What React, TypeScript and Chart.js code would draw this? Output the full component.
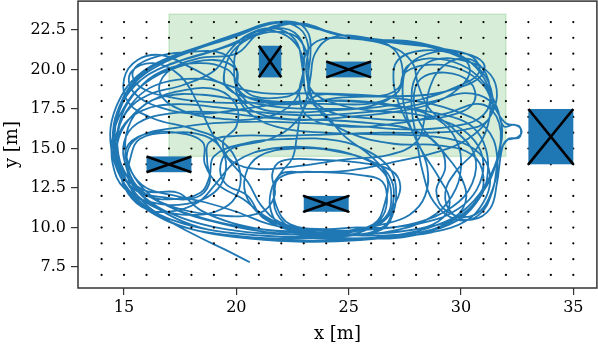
import { useEffect, useRef } from "react";
import { Chart, registerables } from "chart.js";

Chart.register(...registerables);

// ---- axes ----
const xTicks = [15, 20, 25, 30, 35];
const yTicks = [7.5, 10, 12.5, 15, 17.5, 20, 22.5];
const xRange = [12.95, 36.05];
const yRange = [6.175, 24.325];

// ---- waypoint grid ----
const dotXs = [14, 15, 16, 17, 18, 19, 20, 21, 22, 23, 24, 25, 26, 27, 28, 29, 30, 31, 32, 33, 34, 35];
const dotYs = [7, 8, 9, 10, 11, 12, 13, 14, 15, 16, 17, 18, 19, 20, 21, 22, 23];

// ---- target region (green) ----
const regionX = [17, 32];
const regionY = [14.5, 23.5];

// ---- obstacles ----
const obstacleX0 = [21, 24, 16, 23, 33];
const obstacleX1 = [22, 26, 18, 25, 35];
const obstacleY0 = [19.5, 19.5, 13.5, 11, 14];
const obstacleY1 = [21.5, 20.5, 14.5, 12, 17.5];

// ---- trajectory laps ----
const lap1: number[][] = [
  [20.6, 7.8], [19.5, 8.6], [18.2, 9.5], [16.8, 10.6], [15.6, 12.0], [14.8, 13.9], [14.5, 15.9], [14.9, 17.9],
  [15.9, 19.5], [17.4, 20.5], [19.2, 21.3], [20.8, 22.2], [22.1, 22.6], [22.9, 21.8], [23.0, 20.1], [22.8, 18.4],
  [23.2, 17.0], [24.8, 16.4], [27.2, 16.6], [29.3, 17.2], [30.9, 17.8], [31.7, 16.6], [31.6, 14.3], [30.9, 12.1],
  [29.7, 10.5], [27.9, 9.5], [25.6, 9.3], [23.1, 9.5], [20.9, 9.8], [18.9, 10.4], [17.2, 11.2], [15.9, 12.4],
  [15.2, 14.0], [15.1, 15.9], [15.7, 17.5],
];
const lap2: number[][] = [
  [16.8, 18.3], [18.5, 18.4], [20.3, 18.0], [22.0, 17.6], [24.0, 17.5], [26.2, 17.6], [28.2, 18.1], [29.8, 18.9],
  [30.8, 19.8], [30.5, 20.8], [29.2, 21.3], [27.5, 21.6], [25.5, 21.9], [23.8, 21.9], [23.1, 21.0], [23.0, 19.5],
  [23.2, 18.2], [24.0, 17.1], [24.8, 15.8], [26.0, 14.5], [26.7, 13.2], [26.6, 11.5], [26.1, 10.2], [24.5, 9.7],
  [22.6, 9.9], [21.8, 10.9], [21.7, 12.4], [22.0, 13.4], [23.0, 13.5], [25.0, 13.6], [27.2, 14.2], [29.0, 14.8],
  [30.3, 15.6], [31.2, 16.8], [31.6, 18.3], [31.3, 19.7], [30.3, 20.5], [28.8, 20.6], [28.0, 19.6], [27.8, 17.8],
];
const lap3: number[][] = [
  [28.0, 15.8], [28.3, 13.5], [28.8, 11.6], [29.8, 10.5], [30.8, 10.8], [31.4, 12.3], [31.7, 14.6], [32.1, 15.6],
  [32.6, 15.7], [32.6, 16.4], [32.0, 16.6], [31.5, 17.6], [31.0, 19.0], [30.0, 20.0], [28.7, 20.3], [27.5, 19.8],
  [27.2, 18.6], [26.2, 17.9], [24.5, 17.8], [22.8, 17.9], [21.0, 18.1], [19.6, 18.8], [19.5, 20.1], [20.0, 21.4],
  [21.2, 22.3], [22.5, 22.2], [23.1, 21.2], [23.2, 19.8], [23.3, 18.5], [23.8, 17.2], [25.0, 16.0], [27.0, 15.3],
  [29.0, 15.2], [30.5, 14.6], [31.0, 13.2], [30.7, 11.6], [29.5, 10.2], [27.6, 9.6], [25.4, 9.5], [23.0, 9.7],
];
const lap4: number[][] = [
  [20.5, 10.0], [18.5, 10.6], [16.6, 11.6], [15.3, 13.0], [14.6, 15.0], [14.7, 17.0], [15.2, 18.8], [16.3, 20.2],
  [18.0, 21.2], [19.8, 22.0], [21.6, 22.9], [23.0, 22.8], [24.5, 22.2], [26.3, 21.9], [28.0, 21.6], [29.6, 21.0],
  [30.9, 19.9], [31.4, 18.3], [31.2, 16.8], [30.2, 16.2], [28.5, 16.0], [26.5, 16.0], [24.3, 15.9], [22.0, 15.8],
  [20.0, 15.8], [18.8, 15.4], [18.7, 14.2], [18.8, 12.8], [18.2, 11.9], [16.8, 11.9], [15.6, 12.4], [15.1, 13.8],
  [15.0, 15.4], [15.6, 16.6], [17.0, 17.2], [19.0, 17.3], [21.0, 17.0], [23.0, 16.8], [25.0, 17.0], [27.0, 17.3],
  [28.6, 17.8], [29.9, 18.8], [30.4, 20.0], [29.8, 20.9], [28.3, 21.2], [27.2, 20.6], [27.0, 19.2], [27.3, 17.6],
  [28.0, 15.6], [28.5, 13.8], [28.4, 12.0], [27.7, 10.8], [26.5, 10.2],
];
const lap5: number[][] = [
  [25.0, 9.8], [23.0, 9.9], [21.4, 10.5], [20.5, 11.8], [20.4, 13.3], [21.0, 14.5], [22.5, 15.0], [24.5, 14.8],
  [26.3, 14.0], [26.9, 13.0], [27.0, 11.8], [26.7, 10.6], [25.8, 9.9], [24.0, 9.6], [21.6, 9.6], [19.5, 9.9],
  [17.6, 10.6], [16.1, 11.7], [15.1, 13.3], [14.7, 15.2], [14.9, 17.1], [15.6, 18.7], [16.7, 19.9], [18.3, 20.4],
  [19.6, 20.0], [20.2, 18.9], [20.8, 18.3],
];
const lap6: number[][] = [
  [21.8, 18.2], [22.7, 18.6], [23.0, 19.8], [22.8, 21.3], [22.0, 22.3], [20.9, 22.4], [20.1, 21.5], [19.9, 20.0],
  [20.1, 18.6], [20.9, 17.6], [22.4, 17.3], [24.2, 17.4], [26.0, 17.7], [27.2, 18.6], [27.4, 20.0], [27.0, 21.3],
  [25.8, 22.0], [24.2, 22.0], [23.5, 21.0], [23.3, 19.5], [23.1, 18.0], [22.6, 16.6], [21.5, 15.6], [19.8, 15.0],
  [19.3, 14.0], [19.5, 12.8], [20.5, 12.0],
];
const lap7: number[][] = [
  [21.2, 10.6], [22.8, 9.7], [25.0, 9.5], [27.0, 9.8], [28.6, 10.6], [29.6, 12.0], [30.0, 13.8], [29.8, 15.5],
  [29.0, 16.8], [27.5, 17.6], [25.5, 18.0], [23.4, 18.0], [21.2, 17.9], [19.2, 17.9], [17.2, 18.2], [15.7, 18.9],
  [15.4, 19.9], [16.2, 20.7], [17.8, 21.1], [19.4, 21.0], [20.0, 20.0], [20.0, 18.6], [20.6, 17.2], [22.0, 16.3],
  [24.0, 16.0], [26.3, 15.9], [28.4, 15.8], [30.0, 15.4], [31.0, 14.4], [31.3, 13.0], [31.0, 11.6], [30.2, 10.4],
  [28.7, 9.7], [26.8, 9.4], [24.5, 9.3], [22.3, 9.4], [20.2, 9.6], [18.4, 10.0], [17.0, 10.8], [15.8, 12.0],
  [15.0, 13.6], [14.6, 15.5], [14.8, 17.4], [15.5, 19.0], [16.8, 20.2], [18.6, 21.0], [20.3, 21.8], [21.8, 22.7],
  [23.0, 22.9], [24.3, 22.3], [25.8, 21.9], [27.6, 21.8], [29.0, 21.4], [30.2, 20.7], [31.0, 19.5], [31.3, 18.0],
  [30.8, 16.9], [29.6, 16.4],
];
const lap8: number[][] = [
  [27.8, 16.2], [25.5, 16.4], [23.2, 16.6], [21.0, 16.7], [19.0, 16.6], [17.3, 16.3], [15.9, 15.9], [15.2, 15.0],
  [15.2, 13.6], [15.8, 12.3], [17.2, 11.3], [19.0, 10.8], [21.0, 10.9], [21.7, 12.0], [21.6, 13.4], [22.0, 14.2],
  [23.5, 14.3], [25.5, 14.1], [26.9, 13.6], [27.3, 12.6], [27.0, 11.3], [26.6, 10.1], [25.2, 9.5], [23.0, 9.4],
  [21.0, 9.5], [19.0, 9.8], [17.3, 10.4], [15.9, 11.4], [15.0, 12.8], [14.5, 14.5], [14.4, 16.3], [14.8, 18.1],
  [15.6, 19.6], [16.9, 20.7], [18.7, 21.6], [20.3, 22.4], [21.7, 23.0], [22.8, 22.6], [23.2, 21.5], [23.1, 20.0],
  [23.4, 18.6], [24.5, 17.8], [26.0, 17.4], [27.8, 17.2], [29.5, 16.6], [30.6, 15.5], [31.0, 14.0], [30.7, 12.4],
  [29.9, 11.2], [28.6, 10.4], [26.8, 10.0],
];
const lap9: number[][] = [
  [25.2, 10.0], [24.0, 9.9], [22.4, 10.2], [21.8, 11.3], [21.7, 12.7], [22.3, 13.4], [23.8, 13.5], [25.6, 13.3],
  [26.5, 12.9], [26.7, 11.6], [26.4, 10.5], [25.5, 9.7], [23.8, 9.4], [21.8, 9.3], [19.8, 9.5], [18.0, 9.9],
  [16.6, 10.7], [15.6, 11.8], [15.2, 13.0], [15.3, 14.5], [15.7, 15.6], [17.0, 16.0], [18.6, 15.8], [19.4, 14.8],
  [19.5, 13.4], [19.0, 12.2], [17.8, 11.5], [16.2, 11.6], [15.0, 12.5], [14.5, 14.0], [14.5, 15.8], [15.0, 17.6],
  [15.9, 19.1], [17.3, 20.1], [19.0, 20.6], [20.0, 20.0],
];
const lap10: number[][] = [
  [20.1, 18.7], [21.0, 18.0], [22.6, 17.8], [24.5, 18.2], [26.5, 18.3], [28.5, 18.4], [30.0, 18.9], [30.9, 19.6],
  [31.0, 20.4], [30.2, 21.0], [28.8, 21.1], [27.7, 20.3], [27.4, 18.8], [27.6, 17.0], [28.2, 15.0], [29.0, 13.2],
  [29.5, 11.6], [29.0, 10.4], [27.6, 9.8], [25.8, 9.6], [23.8, 9.6], [21.6, 9.8], [19.8, 10.3], [18.4, 11.1],
  [17.4, 12.2], [16.0, 12.3], [15.1, 13.3], [14.7, 14.8], [14.9, 16.3], [15.8, 17.4], [17.3, 17.8], [19.2, 17.6],
  [21.0, 17.3], [23.0, 17.1], [25.0, 17.2], [27.0, 17.5], [28.8, 18.0], [30.2, 18.5], [31.3, 18.0], [31.8, 16.6],
  [31.7, 14.8], [31.2, 13.0], [30.3, 11.3], [29.0, 10.2], [27.0, 9.5],
];
const lap11: number[][] = [
  [24.6, 9.2], [22.2, 9.2], [20.0, 9.4], [18.0, 9.9], [16.4, 10.8], [15.3, 12.1], [14.8, 13.7], [14.7, 15.3],
  [15.2, 16.8], [16.2, 18.0], [17.7, 18.7], [19.2, 18.7], [20.0, 17.7], [20.0, 16.4], [19.4, 15.4],
];
const lap12: number[][] = [
  [19.8, 14.2], [21.0, 13.7], [22.8, 13.9], [24.8, 14.3], [26.8, 14.6], [28.0, 15.4], [28.4, 17.0], [28.6, 18.8],
  [29.2, 20.2], [30.2, 20.7], [31.0, 20.0], [31.3, 18.5], [31.2, 16.5], [30.6, 14.8], [29.8, 13.6], [29.3, 12.2],
  [29.6, 10.9], [30.5, 10.5], [31.3, 11.2], [31.6, 12.8], [31.8, 14.8], [32.0, 15.5], [32.5, 15.7], [32.7, 16.1],
  [32.4, 16.5], [31.9, 16.4], [31.6, 17.6], [31.0, 19.2], [30.0, 20.3], [28.6, 20.7], [27.6, 20.2], [27.2, 18.8],
  [26.2, 18.3], [24.6, 18.4], [23.5, 18.3], [22.9, 17.2], [22.7, 15.8], [22.5, 14.4], [22.0, 13.5], [21.6, 12.6],
  [21.5, 11.3], [21.9, 10.2], [23.0, 9.6], [25.0, 9.5], [26.5, 9.9], [27.0, 11.0], [27.1, 12.6], [26.8, 13.8],
  [25.9, 14.8], [24.5, 15.5], [22.3, 15.6], [20.3, 15.3], [19.0, 14.5], [18.8, 13.2], [18.4, 12.2], [17.2, 11.8],
  [16.0, 12.0], [15.1, 12.9], [14.6, 14.4], [14.5, 16.0], [14.8, 17.7], [15.5, 19.2], [16.6, 20.3], [18.1, 21.2],
  [19.7, 22.0], [21.2, 22.8], [22.6, 23.0], [23.2, 22.3], [23.3, 21.0], [23.2, 19.6],
];
const lap13: number[][] = [
  [23.3, 18.3], [24.2, 17.3], [26.0, 16.9], [28.0, 16.8], [29.8, 17.2], [30.6, 18.0], [30.4, 19.2], [29.3, 19.8],
  [28.2, 19.4], [27.9, 18.0], [28.3, 16.3], [29.2, 14.8], [30.0, 13.2], [30.2, 11.6], [29.4, 10.3], [27.8, 9.6],
  [25.5, 9.2], [23.0, 9.1], [20.6, 9.3], [18.6, 9.7], [17.0, 10.4], [15.8, 11.4], [15.0, 12.8], [14.6, 14.6],
  [14.8, 16.5], [15.5, 18.1], [16.4, 19.0], [17.8, 19.4], [19.2, 19.2], [20.0, 18.4], [20.7, 17.4], [22.0, 16.9],
  [24.0, 16.8], [26.0, 16.6], [27.8, 16.2], [29.0, 15.2], [29.3, 13.8],
];
const lap14: number[][] = [
  [28.9, 12.3], [29.4, 11.0], [30.6, 10.8], [31.4, 12.4], [31.6, 14.6], [31.1, 16.3], [29.7, 17.4], [27.6, 18.1],
  [25.4, 18.4], [23.2, 18.5], [21.2, 18.5], [19.4, 19.1], [18.0, 20.1], [16.7, 20.9], [15.6, 20.6], [15.0, 19.4],
  [15.2, 17.9], [16.3, 16.9], [17.9, 16.3], [19.4, 15.4], [20.1, 13.9], [20.1, 12.3], [19.4, 11.2], [18.0, 10.8],
  [16.5, 11.2], [15.4, 12.3], [14.9, 13.8], [14.7, 15.6], [15.1, 17.3], [16.1, 18.4], [17.6, 19.0], [19.0, 19.9],
  [19.7, 21.2], [20.5, 22.2], [21.7, 22.6], [22.6, 21.9], [22.9, 20.5], [22.9, 19.0], [22.3, 17.6], [21.0, 16.9],
  [19.2, 16.9], [17.6, 17.4], [16.6, 18.5], [16.9, 19.8], [18.3, 20.7], [20.0, 21.0], [21.0, 22.3], [22.3, 22.9],
  [23.8, 22.5], [25.2, 22.0], [26.8, 21.5], [27.8, 20.5], [28.1, 19.0], [28.6, 17.5], [29.7, 16.2], [30.6, 14.6],
  [30.5, 12.8], [29.6, 11.3], [28.0, 10.3], [26.2, 9.9], [24.3, 9.8], [22.5, 10.0], [21.3, 10.7], [20.3, 11.8],
  [19.2, 12.7], [18.6, 14.0], [18.5, 15.4], [17.3, 16.0], [15.9, 15.9], [15.1, 15.0], [15.3, 13.6], [16.0, 12.5],
  [17.3, 12.0], [18.6, 11.6], [20.0, 11.0], [21.5, 10.2], [23.5, 9.7], [25.8, 9.6], [28.0, 9.9], [29.8, 10.6],
  [30.8, 11.8], [31.2, 13.6], [31.0, 15.4], [30.3, 16.6],
];
const lap15: number[][] = [
  [29.0, 17.2], [27.0, 17.7], [24.8, 18.0], [22.5, 17.9], [20.3, 17.5], [18.4, 17.2], [16.6, 17.6], [15.4, 18.6],
  [15.3, 19.8], [16.3, 20.4], [17.5, 19.6], [18.3, 17.8], [18.9, 16.0], [19.6, 14.4], [20.5, 12.9], [21.1, 11.4],
  [22.0, 10.3], [23.6, 9.8], [25.4, 9.9], [26.6, 10.6], [26.9, 12.0], [26.6, 13.4], [25.6, 14.4], [23.8, 15.0],
  [21.6, 15.0], [20.0, 14.2], [19.1, 12.8], [18.3, 11.6], [17.0, 11.0], [15.8, 11.3], [15.0, 12.6], [14.8, 14.2],
];
const laps = [lap1, lap2, lap3, lap4, lap5, lap6, lap7, lap8, lap9, lap10, lap11, lap12, lap13, lap14, lap15];

const FONT = "'DejaVu Serif', serif";

export default function App() {
  const ref = useRef<HTMLCanvasElement | null>(null);

  useEffect(() => {
    const canvas = ref.current;
    if (!canvas) return;

    const dots: { x: number; y: number }[] = [];
    for (const y of dotYs) for (const x of dotXs) dots.push({ x, y });
    const traj: { x: number; y: number }[] = [];
    for (const lap of laps) for (const [x, y] of lap) traj.push({ x, y });

    const shapes = {
      id: "shapes",
      beforeDatasetsDraw(chart: any) {
        const { ctx, scales, chartArea } = chart;
        const xs = scales.x, ys = scales.y;
        ctx.save();
        ctx.beginPath();
        ctx.rect(chartArea.left, chartArea.top, chartArea.right - chartArea.left, chartArea.bottom - chartArea.top);
        ctx.clip();
        const gx0 = xs.getPixelForValue(regionX[0]);
        const gx1 = xs.getPixelForValue(regionX[1]);
        const gy0 = ys.getPixelForValue(regionY[1]);
        const gy1 = ys.getPixelForValue(regionY[0]);
        ctx.fillStyle = "rgba(44,160,44,0.19)";
        ctx.fillRect(gx0, gy0, gx1 - gx0, gy1 - gy0);
        ctx.strokeStyle = "rgba(44,160,44,0.18)";
        ctx.lineWidth = 1.5;
        ctx.strokeRect(gx0, gy0, gx1 - gx0, gy1 - gy0);
        ctx.restore();
      },
      afterDatasetsDraw(chart: any) {
        const { ctx, scales } = chart;
        const xs = scales.x, ys = scales.y;
        ctx.save();
        for (let i = 0; i < obstacleX0.length; i++) {
          const x0 = xs.getPixelForValue(obstacleX0[i]);
          const x1 = xs.getPixelForValue(obstacleX1[i]);
          const y0 = ys.getPixelForValue(obstacleY1[i]);
          const y1 = ys.getPixelForValue(obstacleY0[i]);
          ctx.fillStyle = "#1f77b4";
          ctx.fillRect(x0, y0, x1 - x0, y1 - y0);
          ctx.strokeStyle = "#000";
          ctx.lineWidth = 2.6;
          ctx.lineCap = "butt";
          ctx.beginPath();
          ctx.moveTo(x0, y0);
          ctx.lineTo(x1, y1);
          ctx.moveTo(x0, y1);
          ctx.lineTo(x1, y0);
          ctx.stroke();
        }
        ctx.restore();
      },
      afterDraw(chart: any) {
        const { ctx, chartArea } = chart;
        ctx.save();
        ctx.strokeStyle = "#333";
        ctx.lineWidth = 1.5;
        ctx.strokeRect(chartArea.left, chartArea.top, chartArea.right - chartArea.left, chartArea.bottom - chartArea.top);
        ctx.restore();
      },
    };

    const chart = new Chart(canvas, {
      type: "scatter",
      data: {
        datasets: [
          {
            data: dots,
            pointRadius: 1.1,
            pointHoverRadius: 1.1,
            pointBackgroundColor: "#000",
            pointBorderWidth: 0,
            showLine: false,
          },
          {
            data: traj,
            showLine: true,
            pointRadius: 0,
            borderColor: "#1f77b4",
            borderWidth: 1.8,
            tension: 0.4,
            fill: false,
          },
        ],
      },
      options: {
        animation: false,
        responsive: false,
        events: [],
        layout: { padding: { top: 1, right: 1, left: 0, bottom: 0 } },
        plugins: { legend: { display: false }, tooltip: { enabled: false } },
        scales: {
          x: {
            type: "linear",
            min: xRange[0],
            max: xRange[1],
            afterBuildTicks: (s: any) => { s.ticks = xTicks.map((v) => ({ value: v })); },
            afterFit: (s: any) => { s.height = 57; s.paddingLeft = 0; s.paddingRight = 0; },
            border: { display: false },
            grid: { drawOnChartArea: false, drawTicks: true, tickLength: 7, color: "#333", lineWidth: 1.2 },
            ticks: { color: "#000", font: { family: FONT, size: 16 }, padding: 3, maxRotation: 0, callback: (v: any) => String(v) },
            title: { display: true, text: "x [m]", color: "#000", font: { family: FONT, size: 18 }, padding: { top: 0, bottom: 0 } },
          },
          y: {
            type: "linear",
            min: yRange[0],
            max: yRange[1],
            afterBuildTicks: (s: any) => { s.ticks = yTicks.map((v) => ({ value: v })); },
            afterFit: (s: any) => { s.width = 78; s.paddingTop = 0; s.paddingBottom = 0; },
            border: { display: false },
            grid: { drawOnChartArea: false, drawTicks: true, tickLength: 7, color: "#333", lineWidth: 1.2 },
            ticks: { color: "#000", font: { family: FONT, size: 16 }, padding: 5, callback: (v: any) => Number(v).toFixed(1) },
            title: { display: true, text: "y [m]", color: "#000", font: { family: FONT, size: 18 }, padding: { top: 2, bottom: 0 } },
          },
        },
      },
      plugins: [shapes],
    });
    return () => chart.destroy();
  }, []);

  return (
    <div style={{ position: "absolute", left: 0, top: 0, width: 598, height: 345 }}>
      <canvas ref={ref} width={598} height={345} style={{ width: 598, height: 345 }} />
    </div>
  );
}
